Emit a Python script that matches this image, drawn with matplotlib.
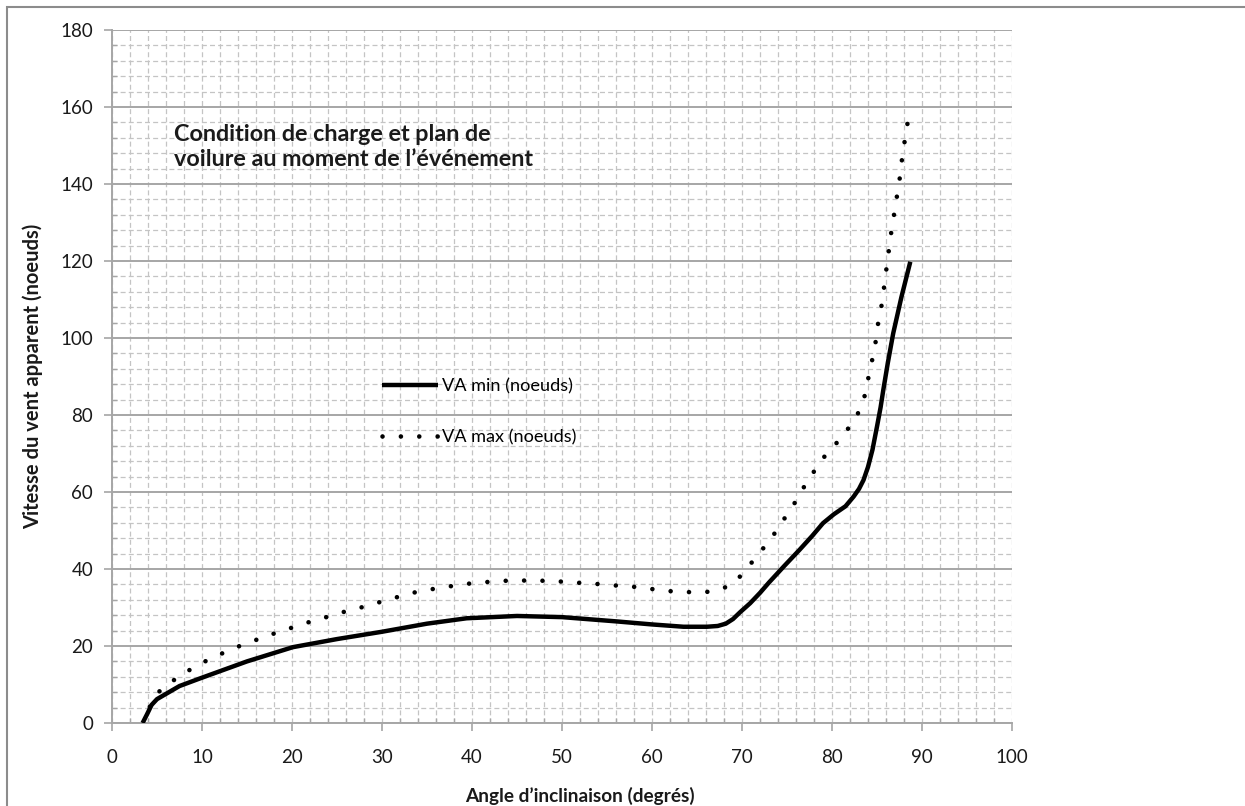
import matplotlib
matplotlib.use("Agg")
import matplotlib.pyplot as plt
from matplotlib.patches import Rectangle
from matplotlib.ticker import MultipleLocator

plt.rcParams['font.family'] = ['Lato', 'DejaVu Sans']

# VA min (noeuds) - solid curve
angle_min = [3.4, 3.9, 4.4, 5.0, 6.1, 7.5, 9.8, 15, 20.1, 25, 30, 35, 39.4,
             45, 50, 56, 60, 63.5, 66.1, 67.3, 68.2, 69.0, 69.8, 70.9, 72.0,
             73.0, 74.7, 76.4, 77.8, 79.0, 80.2, 81.5, 82.4, 83.0, 83.5, 84.0,
             84.5, 85.0, 85.4, 85.7, 86.2, 86.8, 87.7, 88.7]
va_min = [0, 2.3, 4.7, 6.2, 7.7, 9.6, 11.6, 16, 19.7, 21.8, 23.7, 25.8, 27.2,
          27.8, 27.5, 26.4, 25.6, 25.0, 25.0, 25.2, 25.8, 27.0, 28.8, 31.1,
          33.8, 36.5, 40.8, 45, 48.6, 51.9, 54.2, 56.3, 58.8, 60.8, 63.1, 66.5,
          71, 77, 82, 86.5, 93.5, 101.2, 110.5, 119.8]

# VA max (noeuds) - dotted curve
angle_max = [4.2, 5.1, 6.6, 8.2, 9.9, 11.6, 13.4, 15.2, 17.0, 18.8, 20.6,
             22.4, 24.3, 26.1, 28.0, 29.9, 31.7, 33.6, 35.4, 37.3, 39.2, 41.1,
             43.0, 45.0, 46.9, 48.9, 50.7, 52.6, 54.6, 56.5, 58.4, 60.3, 62.2,
             64.1, 66.0, 67.9, 69.5, 70.7, 73.1, 74.2, 75.2, 76.3, 77.2, 78.3,
             79.4, 80.7, 81.9, 82.9, 83.6, 84.0, 84.4, 84.8, 85.0, 85.4, 85.7,
             85.9, 86.2, 86.4, 86.7, 87.0, 87.3, 87.6, 87.8, 88.1, 88.4]
va_max = [4.2, 7.9, 10.7, 13.2, 15.5, 17.4, 19.3, 20.9, 22.4, 23.9, 25.2,
          26.6, 27.8, 29.1, 30.2, 31.5, 32.7, 33.9, 34.7, 35.4, 36.1, 36.5,
          36.9, 37.0, 37.0, 36.9, 36.6, 36.3, 36.0, 35.6, 35.3, 34.7, 34.2,
          34.0, 34.0, 34.9, 37.3, 40.6, 47.5, 51.2, 54.9, 58.7, 62.7, 66.3,
          70.0, 73.2, 76.8, 80.5, 84.7, 89.2, 93.6, 98.0, 102.4, 106.9, 111.3,
          115.8, 120.2, 124.7, 129.2, 133.6, 138.1, 142.6, 147.0, 151.5, 155.9]

fig = plt.figure(figsize=(12.45, 8.06), dpi=100)
ax = fig.add_axes([112 / 1245, 1 - 723 / 806, 900 / 1245, 693 / 806])

# outer chart border (only left and top edges fall inside the image)
fig.patches.append(Rectangle((7 / 1245, -0.2), 1.2, 1.2 - 7 / 806,
                             transform=fig.transFigure, fill=False,
                             edgecolor='#8c8c8c', linewidth=1.5))

ax.plot(angle_min, va_min, color='black', linewidth=3.2,
        solid_capstyle='butt', solid_joinstyle='round',
        label='VA min (noeuds)', zorder=3)
ax.plot(angle_max, va_max, color='black', linewidth=3.3,
        linestyle=(0, (0.01, 4.0)), dash_capstyle='round',
        label='VA max (noeuds)', zorder=3)

ax.set_xlim(0, 100)
ax.set_ylim(0, 180)
ax.xaxis.set_major_locator(MultipleLocator(10))
ax.xaxis.set_minor_locator(MultipleLocator(2))
ax.yaxis.set_major_locator(MultipleLocator(20))
ax.yaxis.set_minor_locator(MultipleLocator(4))

ax.grid(axis='y', which='major', color='#a6a6a6', linewidth=1.4, linestyle='-')
ax.grid(axis='y', which='minor', color='#c4c4c4', linewidth=0.9,
        linestyle=(0, (4, 2.5)))
ax.grid(axis='x', which='both', color='#c4c4c4', linewidth=0.9,
        linestyle=(0, (4, 2.5)))

for side in ['top', 'right']:
    ax.spines[side].set_visible(False)
for side in ['left', 'bottom']:
    ax.spines[side].set_color('#a6a6a6')
    ax.spines[side].set_linewidth(1.4)

ax.tick_params(which='major', direction='out', length=5.5, width=1.2,
               color='#a6a6a6', labelsize=13.5, labelcolor='#1a1a1a')
ax.tick_params(which='minor', direction='in', length=3.5, width=1.0,
               color='#a6a6a6')
ax.tick_params(axis='y', which='major', pad=8)
ax.tick_params(axis='x', which='major', pad=13)

ax.set_xlabel('Angle d’inclinaison (degrés)', fontsize=13.7, fontweight='bold',
              color='#1a1a1a')
ax.set_ylabel('Vitesse du vent apparent (noeuds)', fontsize=14.5,
              fontweight='bold', color='#1a1a1a')
ax.xaxis.set_label_coords(0.52, -0.092)
ax.yaxis.set_label_coords(-0.076, 0.5)

ax.text(6.9, 155.5, 'Condition de charge et plan de\nvoilure au moment de l’événement',
        fontsize=16.8, fontweight='bold', color='#1a1a1a', va='top', ha='left',
        linespacing=1.22)

ax.legend(loc='upper left', bbox_to_anchor=(0.30, 0.498), frameon=False,
          fontsize=13.1, handlelength=3.1, handletextpad=0.2,
          labelspacing=1.95, borderpad=0, borderaxespad=0)

fig.savefig('out.png', dpi=100)
